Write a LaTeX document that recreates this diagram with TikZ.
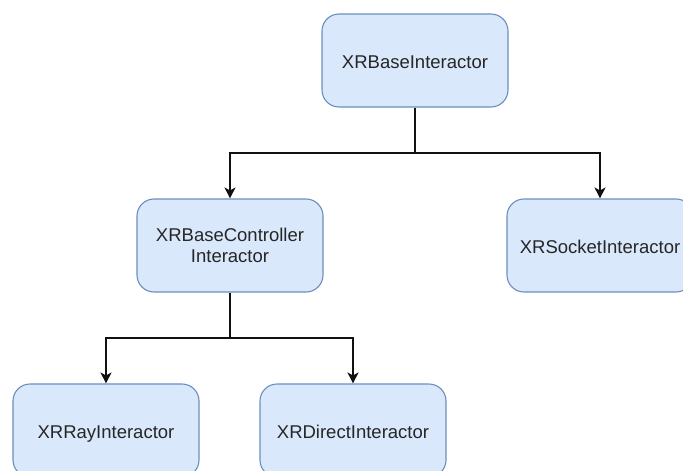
\documentclass[tikz,border=0pt]{standalone}
\usepackage{fontspec}
\setmainfont{Liberation Sans}
\usetikzlibrary{arrows.meta}
\definecolor{boxfill}{HTML}{DAE8FC}
\definecolor{boxline}{HTML}{6C8EBF}
\definecolor{inktext}{HTML}{262626}
\definecolor{wire}{HTML}{111111}
\begin{document}
\begin{tikzpicture}[x=1pt,y=-1pt,
  classbox/.style={draw=boxline, fill=boxfill, line width=1.1pt,
    rounded corners=17pt, minimum width=186pt, minimum height=93pt,
    inner sep=0pt, align=center, text=inktext,
    font=\fontsize{18.5}{21}\selectfont},
  onerow/.style={text height=16pt, text depth=0pt},
  link/.style={draw=wire, line width=1.4pt,
    -{Stealth[length=11pt,width=11pt,inset=3pt]}}]
  \clip (0,0) rectangle (683,471);
  \fill[white] (0,0) rectangle (683,471);

  % class boxes
  \node[classbox, onerow] (base)   at (415,60.5)  {XRBaseInteractor};
  \node[classbox]         (ctrl)   at (230,245.5) {XRBaseController\\Interactor};
  \node[classbox, onerow] (socket) at (600,245.5) {XRSocketInteractor};
  \node[classbox, onerow] (ray)    at (106,430.5) {XRRayInteractor};
  \node[classbox, onerow] (direct) at (353,430.5) {XRDirectInteractor};

  % branch points of the inheritance tree
  \coordinate (j1) at (415,153);
  \coordinate (j2) at (230,338);

  \draw[draw=wire, line width=1.4pt] (base.south) -- (j1);
  \draw[link] (j1) -| (ctrl.north);
  \draw[link] (j1) -| (socket.north);

  \draw[draw=wire, line width=1.4pt] (ctrl.south) -- (j2);
  \draw[link] (j2) -| (ray.north);
  \draw[link] (j2) -| (direct.north);
\end{tikzpicture}
\end{document}
